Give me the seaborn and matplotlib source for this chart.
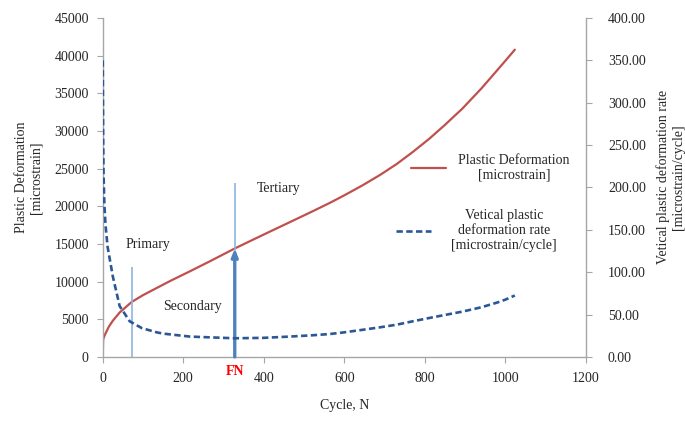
import matplotlib
matplotlib.use('Agg')
import matplotlib.pyplot as plt
import matplotlib.transforms as mtransforms
from matplotlib.ticker import FormatStrFormatter, MultipleLocator
import seaborn as sns

sns.set_style('white')
plt.rcParams['font.family'] = ['Liberation Serif', 'DejaVu Serif']
plt.rcParams['font.size'] = 10

# plastic deformation [microstrain] vs cycle
cycles_pd = [0, 1, 5, 15, 25, 42, 72, 100, 134, 170, 216, 270, 328, 400, 465,
             520, 564, 600, 646, 690, 730, 770, 812, 850, 894, 940, 979, 1000, 1024]
plastic_def = [0, 2300, 2900, 4000, 4800, 5900, 7300, 8200, 9150, 10150, 11350,
               12800, 14400, 16250, 17900, 19300, 20450, 21450, 22800, 24200,
               25600, 27200, 29000, 30800, 33000, 35600, 38000, 39300, 40800]

# vertical plastic deformation rate [microstrain/cycle]
cycles_rate = [0, 1, 2, 4, 7, 12, 25, 42, 67, 97, 134, 150, 216, 270, 328, 400,
               465, 520, 564, 600, 646, 690, 730, 770, 812, 850, 894, 940, 979,
               1000, 1024]
def_rate = [350, 260, 215, 180, 155, 130, 95, 60, 42, 34, 29, 27.5, 24, 23, 22,
            22.5, 24, 25.5, 27, 29, 32, 35, 38, 42, 46, 49.5, 53.5, 58.5, 64,
            67.5, 72.5]

# phase boundaries
primary_end = 72
primary_top = 12000
fn_cycle = 328
fn_top = 23100
fn_value = 14400

RED = '#C0504D'
BLUE = '#2B5797'
LIGHT = '#8DB4E2'
GRID = '#A6A6A6'

fig = plt.figure(figsize=(6.85, 4.3), dpi=100)
ax = fig.add_axes([0.150, 0.170, 0.705, 0.788])
ax2 = ax.twinx()

sns.lineplot(x=cycles_pd, y=plastic_def, ax=ax, color=RED, lw=1.6, legend=False)
line_pd = ax.lines[-1]
sns.lineplot(x=cycles_rate, y=def_rate, ax=ax2, color=BLUE, lw=1.9,
             linestyle=(0, (2.4, 1.3)), legend=False)
line_rate = ax2.lines[-1]

# phase markers
ax.vlines(primary_end, 0, primary_top, color=LIGHT, lw=1.2)
ax.vlines(fn_cycle, 0, fn_top, color=LIGHT, lw=1.2)
ax.annotate('', xy=(fn_cycle, fn_value), xytext=(fn_cycle, 0),
            arrowprops=dict(arrowstyle='-|>,head_length=0.45,head_width=0.18',
                            color='#4F81BD', lw=2.4, shrinkA=0, shrinkB=0))

ax.text(57, 14900, 'Primary', va='center', ha='left')
ax.text(149, 6650, 'Secondary', va='center', ha='left')
ax.text(383, 22400, 'Tertiary', va='center', ha='left')
trans = mtransforms.blended_transform_factory(ax.transData, ax.transAxes)
ax.text(fn_cycle, -0.044, 'FN', transform=trans, color='red', fontweight='bold',
        ha='center', va='center')

ax.set_xlim(0, 1200)
ax.set_ylim(0, 45000)
ax2.set_ylim(0, 400)
ax.xaxis.set_major_locator(MultipleLocator(200))
ax.yaxis.set_major_locator(MultipleLocator(5000))
ax2.yaxis.set_major_locator(MultipleLocator(50))
ax2.yaxis.set_major_formatter(FormatStrFormatter('%.2f'))

for a in (ax, ax2):
    a.spines['top'].set_visible(False)
    for s in a.spines.values():
        s.set_color(GRID)
        s.set_linewidth(1)
ax.spines['right'].set_visible(False)
ax2.spines['left'].set_visible(False)
ax2.spines['bottom'].set_visible(False)

ax.tick_params(axis='x', bottom=True, direction='out', length=4, color=GRID,
               pad=7, labelcolor='#262626')
ax.tick_params(axis='y', left=True, direction='out', length=4, color=GRID,
               pad=6, labelcolor='#262626')
ax2.tick_params(axis='y', right=True, direction='out', length=4, color=GRID,
                pad=12, labelcolor='#262626')

ax.set_xlabel('Cycle, N')
ax.xaxis.set_label_coords(0.5, -0.125)
ax.set_ylabel('Plastic Deformation\n[microstrain]')
ax.yaxis.set_label_coords(-0.124, 0.53)
ax2.set_ylabel('Vetical plastic deformation rate\n[microstrain/cycle]')
ax2.yaxis.set_label_coords(1.147, 0.53)

leg1 = ax.legend(handles=[line_pd], labels=['Plastic Deformation\n[microstrain]'],
                 loc='center left', bbox_to_anchor=(0.638, 0.558), frameon=False,
                 borderpad=0, borderaxespad=0, handlelength=2.5, handletextpad=0.9)
leg2 = ax2.legend(handles=[line_rate],
                  labels=['Vetical plastic\ndeformation rate\n[microstrain/cycle]'],
                  loc='center left', bbox_to_anchor=(0.607, 0.372), frameon=False,
                  borderpad=0, borderaxespad=0, handlelength=2.5, handletextpad=1.5)
for leg in (leg1, leg2):
    for t in leg.get_texts():
        t.set_multialignment('center')

fig.savefig('out.png', dpi=100)
